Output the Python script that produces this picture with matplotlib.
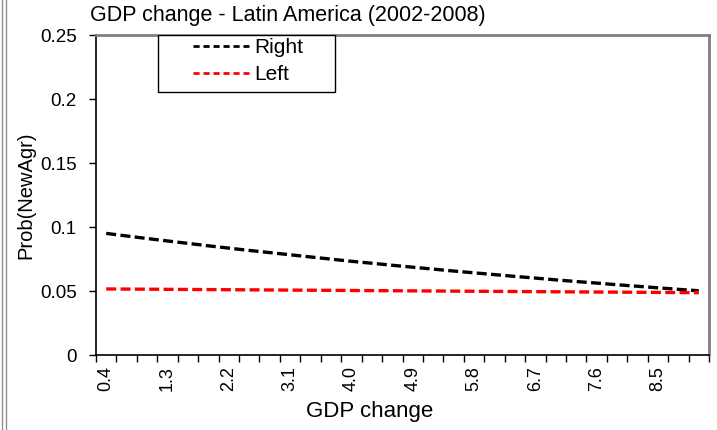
import numpy as np
import matplotlib
matplotlib.use('Agg')
import matplotlib.pyplot as plt
from matplotlib.lines import Line2D
from matplotlib.patches import Rectangle

plt.rcParams['font.family'] = ['Liberation Sans', 'DejaVu Sans']

# GDP change categories (only every third one is labelled on the axis)
gdp_labels = ['0.4', '0.7', '1.0', '1.3', '1.6', '1.9', '2.2', '2.5', '2.8', '3.1',
              '3.4', '3.7', '4.0', '4.3', '4.6', '4.9', '5.2', '5.5', '5.8', '6.1',
              '6.4', '6.7', '7.0', '7.3', '7.6', '7.9', '8.2', '8.5', '8.8', '9.1']
right_vals = [0.0950, 0.0930, 0.0910, 0.0891, 0.0872, 0.0853, 0.0835, 0.0817, 0.0800, 0.0783,
              0.0766, 0.0749, 0.0732, 0.0717, 0.0701, 0.0686, 0.0671, 0.0656, 0.0642, 0.0628,
              0.0614, 0.0601, 0.0587, 0.0574, 0.0562, 0.0549, 0.0537, 0.0525, 0.0513, 0.0502]
left_vals = [0.0516, 0.0515, 0.0514, 0.0513, 0.0512, 0.0511, 0.0510, 0.0509, 0.0508, 0.0507,
             0.0506, 0.0505, 0.0504, 0.0503, 0.0502, 0.0501, 0.0500, 0.0499, 0.0498, 0.0497,
             0.0496, 0.0495, 0.0494, 0.0493, 0.0492, 0.0491, 0.0490, 0.0489, 0.0488, 0.0487]
y_ticks = [0, 0.05, 0.1, 0.15, 0.2, 0.25]
y_tick_labels = ['0', '0.05', '0.1', '0.15', '0.2', '0.25']

W, H = 717, 430
fig = plt.figure(figsize=(W / 100, H / 100), dpi=100)
ax = fig.add_axes([96 / W, 75 / H, 613 / W, 320 / H])

x = np.arange(len(gdp_labels))
ax.plot(x, right_vals, color='black', lw=2.4, dashes=(3, 1.3), label='Right')
ax.plot(x, left_vals, color='#ff0000', lw=2.4, dashes=(3, 1.3), label='Left')

ax.set_xlim(-0.5, len(gdp_labels) - 0.5)
ax.set_ylim(0, 0.25)
ax.set_yticks(y_ticks)
ax.set_yticklabels(y_tick_labels, fontsize=13.5)
ax.tick_params(axis='y', direction='out', length=5, width=1, pad=9)

# labels at category centres, tick marks between categories
ax.set_xticks(x[::3])
ax.set_xticklabels(gdp_labels[::3], rotation=90, fontsize=13)
ax.set_xticks(np.arange(-0.5, len(gdp_labels)), minor=True)
ax.tick_params(axis='x', which='major', length=0, pad=8)
ax.tick_params(axis='x', which='minor', direction='out', length=5, width=1)

for side in ['left', 'bottom']:
    ax.spines[side].set_color('black')
    ax.spines[side].set_linewidth(1.2)
for side in ['top', 'right']:
    ax.spines[side].set_color('#808080')
    ax.spines[side].set_linewidth(2)

# legend without its own frame; the box is drawn separately to match the wide padding
leg = ax.legend(loc='upper left', bbox_to_anchor=((193 - 96) / 613, (355 - 38) / 320),
                borderaxespad=0, borderpad=0, frameon=False, fontsize=15,
                handlelength=2.7, handletextpad=0.25, labelspacing=0.4)
for hl in leg.get_lines():
    hl.set_linewidth(2)
    hl.set_dashes((2.2, 1.4))
ax.add_patch(Rectangle(((158 - 96) / 613, (355 - 92) / 320), 177 / 613, 57 / 320,
                       transform=ax.transAxes, facecolor='white', edgecolor='black',
                       lw=1, zorder=4))
leg.set_zorder(5)

fig.text(90 / W, 1 - 15 / H, 'GDP change - Latin America (2002-2008)',
         fontsize=15.5, ha='left', va='center')
fig.text(370 / W, 1 - 412 / H, 'GDP change', fontsize=16, ha='center', va='center')
fig.text(26 / W, 1 - 195 / H, 'Prob(NewAgr)', fontsize=14.5, rotation=90,
         ha='center', va='center')

# double frame line at the left edge of the picture
for xp in [2, 6]:
    fig.add_artist(Line2D([xp / W, xp / W], [0, 1], color='#909090', lw=1))

fig.savefig('out.png', dpi=100)
